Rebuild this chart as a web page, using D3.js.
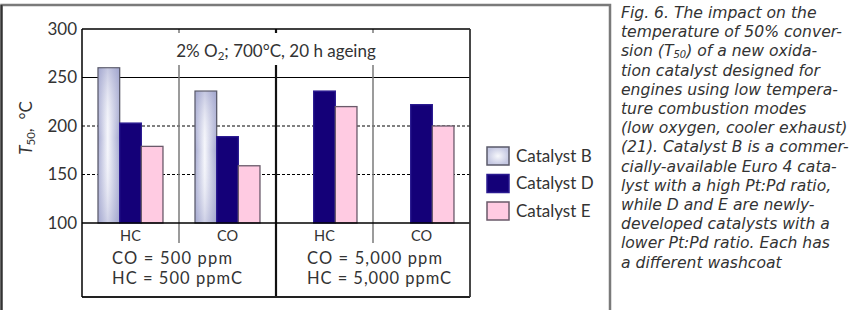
<!DOCTYPE html>
<html>
<head>
<meta charset="utf-8">
<script src="https://cdn.jsdelivr.net/npm/d3@7"></script>
<style>
  html, body { margin: 0; padding: 0; background: #fff; }
  svg { display: block; }
  text { font-family: Lato, "Open Sans", sans-serif; fill: #333; }
</style>
</head>
<body>
<svg id="chart" width="853" height="310"></svg>
<script>
// ---------- data ----------
const groups = ["g1", "g2", "g3", "g4"];
const categories = ["HC", "CO", "HC", "CO"];
const catalysts = ["Catalyst B", "Catalyst D", "Catalyst E"];
const catalystB = [260, 236, null, null];
const catalystD = [203, 189, 236, 222];
const catalystE = [179, 159, 220, 200];
const yTicks = [100, 150, 200, 250, 300];
const conditionLeft = ["CO = 500 ppm", "HC = 500 ppmC"];
const conditionRight = ["CO = 5,000 ppm", "HC = 5,000 ppmC"];
const captionLines = [
  "Fig. 6. The impact on the",
  "temperature of 50% conver-",
  "sion (|T|50|) of a new oxida-",
  "tion catalyst designed for",
  "engines using low tempera-",
  "ture combustion modes",
  "(low oxygen, cooler exhaust)",
  "(21). Catalyst B is a commer-",
  "cially-available Euro 4 cata-",
  "lyst with a high Pt:Pd ratio,",
  "while D and E are newly-",
  "developed catalysts with a",
  "lower Pt:Pd ratio. Each has",
  "a different washcoat"
];

// ---------- layout ----------
const svg = d3.select("#chart");
const L = 82, R = 470, T = 29, B = 223, boxBottom = 297;

const x = d3.scaleBand().domain(groups).range([L, R]).paddingInner(0).paddingOuter(0);
const xs = d3.scaleBand().domain(catalysts).range([0, x.bandwidth()]).paddingInner(0).paddingOuter(0.74);
const y = d3.scaleLinear().domain([100, 300]).range([B, T]);

const series = [catalystB, catalystD, catalystE];

// defs: gradient for catalyst B
const defs = svg.append("defs");
const gB = defs.append("linearGradient").attr("id", "gradB").attr("x1", "0").attr("x2", "1").attr("y1", "0").attr("y2", "0");
gB.append("stop").attr("offset", "0%").attr("stop-color", "#a7abd2");
gB.append("stop").attr("offset", "45%").attr("stop-color", "#f6f7fc");
gB.append("stop").attr("offset", "100%").attr("stop-color", "#a3a7cf");
const gV = defs.append("linearGradient").attr("id", "gradBv").attr("x1", "0").attr("x2", "0").attr("y1", "0").attr("y2", "1");
gV.append("stop").attr("offset", "0%").attr("stop-color", "#9fa3cc").attr("stop-opacity", 0.55);
gV.append("stop").attr("offset", "45%").attr("stop-color", "#ffffff").attr("stop-opacity", 0);
gV.append("stop").attr("offset", "100%").attr("stop-color", "#9fa3cc").attr("stop-opacity", 0.45);
const gL = defs.append("radialGradient").attr("id", "gradLeg");
gL.append("stop").attr("offset", "0%").attr("stop-color", "#f7f8fc");
gL.append("stop").attr("offset", "100%").attr("stop-color", "#c5c8e2");

const fills = ["url(#gradB)", "#140078", "#ffcbe2"];
const strokes = ["#5a5a6a", "#2a1a90", "#6a5a6a"];

// outer frame
svg.append("path")
  .attr("d", `M1.5,310 L1.5,5 L610,5 L610,310`)
  .attr("fill", "none").attr("stroke", "#7a7a7a").attr("stroke-width", 2.5);
svg.append("line").attr("x1", 1.5).attr("x2", 1.5).attr("y1", 5).attr("y2", 310)
  .attr("stroke", "#333").attr("stroke-width", 2);

// gridlines
[250].forEach(v => svg.append("line").attr("x1", L).attr("x2", R).attr("y1", y(v)).attr("y2", y(v))
  .attr("stroke", "#000").attr("stroke-width", 1.2));
[200, 150].forEach(v => svg.append("line").attr("x1", L).attr("x2", R).attr("y1", y(v)).attr("y2", y(v))
  .attr("stroke", "#000").attr("stroke-width", 1).attr("stroke-dasharray", "3,2"));

// dividers
const gap = [33, 65];
function vseg(xp, y1, y2, color, w) {
  svg.append("line").attr("x1", xp).attr("x2", xp).attr("y1", y1).attr("y2", gap[0]).attr("stroke", color).attr("stroke-width", w);
  svg.append("line").attr("x1", xp).attr("x2", xp).attr("y1", gap[1]).attr("y2", y2).attr("stroke", color).attr("stroke-width", w);
}
vseg(x("g2"), T, 243, "#7a7a7a", 1.5);
vseg(x("g4"), T, 243, "#7a7a7a", 1.5);
vseg(x("g3"), T, boxBottom, "#111", 2.2);

// bars
series.forEach((vals, si) => {
  svg.append("g").selectAll("rect")
    .data(vals.map((v, i) => ({ v, g: groups[i] })).filter(d => d.v !== null))
    .join("rect")
    .attr("x", d => x(d.g) + xs(catalysts[si]))
    .attr("width", xs.bandwidth())
    .attr("y", d => y(d.v))
    .attr("height", d => y(100) - y(d.v))
    .attr("fill", fills[si])
    .attr("stroke", strokes[si]).attr("stroke-width", 1.3);
  if (si === 0) {
    svg.append("g").selectAll("rect")
      .data(vals.map((v, i) => ({ v, g: groups[i] })).filter(d => d.v !== null))
      .join("rect")
      .attr("x", d => x(d.g) + xs(catalysts[si]) + 0.7)
      .attr("width", xs.bandwidth() - 1.4)
      .attr("y", d => y(d.v) + 0.7)
      .attr("height", d => y(100) - y(d.v) - 1.4)
      .attr("fill", "url(#gradBv)");
  }
});

// plot frame
svg.append("line").attr("x1", L).attr("x2", R).attr("y1", T).attr("y2", T).attr("stroke", "#000").attr("stroke-width", 1.5);
svg.append("line").attr("x1", L).attr("x2", R).attr("y1", B).attr("y2", B).attr("stroke", "#000").attr("stroke-width", 1.5);
svg.append("line").attr("x1", L).attr("x2", R).attr("y1", boxBottom).attr("y2", boxBottom).attr("stroke", "#222").attr("stroke-width", 1.8);
svg.append("line").attr("x1", L).attr("x2", L).attr("y1", T).attr("y2", boxBottom).attr("stroke", "#000").attr("stroke-width", 1.5);
svg.append("line").attr("x1", R).attr("x2", R).attr("y1", T).attr("y2", boxBottom).attr("stroke", "#333").attr("stroke-width", 1.8);

// y axis ticks
const yAxis = svg.append("g").attr("transform", `translate(${L},0)`)
  .call(d3.axisLeft(y).tickValues(yTicks).tickSize(0).tickPadding(5).tickFormat(d3.format("d")));
yAxis.select(".domain").remove();
yAxis.selectAll("text").style("font-size", "17px").attr("fill", "#333")
  .style("font-family", 'Lato, "Open Sans", sans-serif');

// y label
const yl = svg.append("text").attr("transform", "translate(32,128) rotate(-90)")
  .attr("text-anchor", "middle").style("font-size", "17px");
yl.append("tspan").text("T").style("font-style", "italic");
yl.append("tspan").text("50").style("font-size", "11.5px").attr("dy", 3);
yl.append("tspan").text(",\u00a0 °C").attr("dy", -3);

// title
const tt = svg.append("text").attr("x", x("g3")).attr("y", 57).attr("text-anchor", "middle").style("font-size", "17px");
tt.append("tspan").text("2% O");
tt.append("tspan").text("2").style("font-size", "11.5px").attr("dy", 3);
tt.append("tspan").text("; 700°C, 20 h ageing").attr("dy", -3);

// category labels
svg.append("g").selectAll("text").data(groups).join("text")
  .attr("x", d => x(d) + x.bandwidth() / 2).attr("y", 241)
  .attr("text-anchor", "middle").style("font-size", "14.5px")
  .text((d, i) => categories[i]);

// condition labels (one text block each, two lines), widths stretched to the reference
[[conditionLeft, x("g1") + 30, [120, 130]], [conditionRight, x("g3") + 31, [135, 144]]].forEach(([lines, xp, widths]) => {
  const t = svg.append("text").attr("x", xp).attr("y", 264).style("font-size", "16.5px");
  lines.forEach((s, i) => t.append("tspan").attr("x", xp).attr("dy", i === 0 ? 0 : 20)
    .attr("textLength", widths[i]).attr("lengthAdjust", "spacing").text(s));
});

// legend
const leg = svg.append("g").selectAll("g").data(catalysts).join("g")
  .attr("transform", (d, i) => `translate(487,${147 + i * 27.5})`);
leg.append("rect").attr("width", 22).attr("height", 18)
  .attr("fill", (d, i) => i === 0 ? "url(#gradLeg)" : fills[i])
  .attr("stroke", (d, i) => strokes[i]).attr("stroke-width", 1.5);
leg.append("text").attr("x", 29).attr("y", 9).attr("dy", "0.35em").style("font-size", "17px").text(d => d);

// caption (one text block)
const cap = svg.append("text").attr("x", 621).attr("y", 18)
  .style("font-family", '"DejaVu Sans", sans-serif')
  .style("font-style", "oblique").style("font-size", "15.6px");
captionLines.forEach((line, i) => {
  const first = cap.append("tspan").attr("x", 621).attr("dy", i === 0 ? 0 : 19.2);
  if (line.includes("|")) {
    const parts = line.split("|");
    first.text(parts[0]);
    cap.append("tspan").text(parts[1]);
    cap.append("tspan").text(parts[2]).style("font-size", "10px").attr("dy", 1.4);
    cap.append("tspan").text(parts[3]).attr("dy", -1.4);
  } else {
    first.text(line);
  }
});
</script>
</body>
</html>
